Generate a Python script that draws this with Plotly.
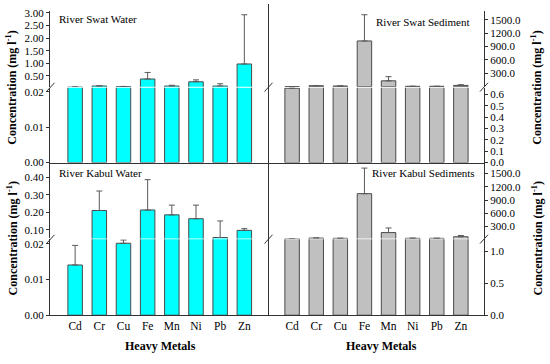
import plotly.graph_objects as go

metals = ["Cd", "Cr", "Cu", "Fe", "Mn", "Ni", "Pb", "Zn"]

swat_water = [0.06, 0.102, 0.08, 0.38, 0.10, 0.27, 0.10, 0.975]
swat_water_err = [0.01, 0.005, 0.005, 0.26, 0.03, 0.075, 0.09, 1.955]

swat_sed = [0.655, 22, 15, 1024, 131, 8, 8, 28]
swat_sed_err = [0.005, 2, 2, 588, 93, 0, 0, 16]

kabul_water = [0.0141, 0.21, 0.0202, 0.213, 0.185, 0.163, 0.055, 0.096]
kabul_water_err = [0.0055, 0.112, 0.0009, 0.174, 0.056, 0.078, 0.095, 0.01]

kabul_sed = [20, 37, 32, 1044, 162, 32, 32, 67]
kabul_sed_err = [2, 3, 0, 580, 104, 3, 0, 29]

W, H = 550, 364
FONT = "Liberation Serif"
LINE = "#333333"
CYAN = "#00FFFF"
GRAY = "#C0C0C0"


def px(x):
    return x / W


def py(y):
    return 1 - y / H


fig = go.Figure()


def add_pair(vals, errs, color, xa, ylow, yhigh):
    for ya in (ylow, yhigh):
        fig.add_trace(go.Bar(
            x=metals, y=vals, xaxis=xa, yaxis=ya, width=0.6,
            marker=dict(color=color, line=dict(color="#4a4a4a", width=1)),
            error_y=dict(type="data", symmetric=False, array=errs,
                         arrayminus=[0] * len(errs), color="#5a5a5a",
                         thickness=1, width=3),
            showlegend=False, hoverinfo="skip",
        ))


add_pair(kabul_water, kabul_water_err, CYAN, "x", "y", "y2")
add_pair(swat_water, swat_water_err, CYAN, "x3", "y3", "y4")
add_pair(kabul_sed, kabul_sed_err, GRAY, "x2", "y5", "y6")
add_pair(swat_sed, swat_sed_err, GRAY, "x4", "y7", "y8")

tickfont = dict(family=FONT, size=11, color="black")

yax_common = dict(showline=True, linecolor=LINE, linewidth=1, ticks="outside",
                  ticklen=3, tickcolor=LINE, showgrid=False, zeroline=False,
                  tickfont=tickfont, fixedrange=True)
xax_common = dict(showline=True, linecolor=LINE, linewidth=1, showgrid=False,
                  zeroline=False, ticks="", tickfont=dict(family=FONT, size=11.5, color="black"),
                  fixedrange=True, type="category")

xl = [px(50), px(268.5)]
xr = [px(268.5), px(484)]
# vertical pixel domains
tu = [py(85), py(7)]
tl = [py(163), py(86)]
bu = [py(241), py(163)]
bl = [py(320), py(242)]

fig.update_layout(
    width=W, height=H, margin=dict(l=0, r=0, t=0, b=0), autosize=False,
    plot_bgcolor="white", paper_bgcolor="white", bargap=0,
    showlegend=False,
    xaxis=dict(xax_common, domain=xl, anchor="y", range=[-1.04, 8.0], showticklabels=True),
    xaxis2=dict(xax_common, domain=xr, anchor="y5", range=[-0.98, 7.96], showticklabels=True),
    xaxis3=dict(xax_common, domain=xl, anchor="y3", range=[-1.04, 8.0], showticklabels=False),
    xaxis4=dict(xax_common, domain=xr, anchor="y7", range=[-0.98, 7.96], showticklabels=False),
    # bottom left (Kabul water)
    yaxis=dict(yax_common, domain=bl, anchor="x", range=[0, 0.0213],
               tickvals=[0, 0.01, 0.02], tickformat=".2f"),
    yaxis2=dict(yax_common, domain=bu, anchor="x", range=[0.05, 0.4855],
                tickvals=[0.1, 0.2, 0.3, 0.4], tickformat=".2f"),
    # top left (Swat water)
    yaxis3=dict(yax_common, domain=tl, anchor="x3", range=[0, 0.0212],
                tickvals=[0, 0.01, 0.02], tickformat=".2f"),
    yaxis4=dict(yax_common, domain=tu, anchor="x3", range=[0.075, 3.087],
                tickvals=[0.5, 1.0, 1.5, 2.0, 2.5, 3.0], tickformat=".2f"),
    # bottom right (Kabul sediment)
    yaxis5=dict(yax_common, domain=bl, anchor="x2", side="right", range=[0, 1.187],
                tickvals=[0, 0.5, 1.0], tickformat=".1f"),
    yaxis6=dict(yax_common, domain=bu, anchor="x2", side="right", range=[30, 1750],
                tickvals=[300, 600, 900, 1200, 1500], tickformat=".1f"),
    # top right (Swat sediment)
    yaxis7=dict(yax_common, domain=tl, anchor="x4", side="right", range=[0, 0.66],
                tickvals=[0, 0.1, 0.2, 0.3, 0.4, 0.5, 0.6], tickformat=".1f"),
    yaxis8=dict(yax_common, domain=tu, anchor="x4", side="right", range=[0, 1700],
                tickvals=[300, 600, 900, 1200, 1500], tickformat=".1f"),
)

shapes = []
# central divider
shapes.append(dict(type="line", xref="paper", yref="paper", x0=px(268.5), x1=px(268.5),
                   y0=py(0), y1=py(320), line=dict(color=LINE, width=1)))
# break marks
for yb in (85.5, 241.8):
    for xb in (50.5, 268.5, 484):
        shapes.append(dict(type="line", xref="paper", yref="paper",
                           x0=px(xb - 4), y0=py(yb + 4.5), x1=px(xb + 4), y1=py(yb - 4.5),
                           line=dict(color=LINE, width=1)))
fig.update_layout(shapes=shapes)

ann = []
lab_font = dict(family=FONT, size=11, color="black")
ann.append(dict(text="River Swat Water", x=px(57), y=py(15.5), xanchor="left", yanchor="middle"))
ann.append(dict(text="River Swat Sediment", x=px(472), y=py(19), xanchor="right", yanchor="middle"))
ann.append(dict(text="River Kabul Water", x=px(57), y=py(173.5), xanchor="left", yanchor="middle"))
ann.append(dict(text="River Kabul Sediments", x=px(477), y=py(173.5), xanchor="right", yanchor="middle"))
for a in ann:
    a.update(xref="paper", yref="paper", showarrow=False, font=lab_font)

title_font = dict(family=FONT, size=12, color="black")
ytitle = "<b>Concentration (mg l<sup>-1</sup>)</b>"
for (xt, yt) in ((12, 86), (12, 241), (537, 86), (537, 241)):
    ann.append(dict(text=ytitle, x=px(xt), y=py(yt), xref="paper", yref="paper",
                    showarrow=False, textangle=-90, font=title_font,
                    xanchor="center", yanchor="middle"))
for xt in (160, 381):
    ann.append(dict(text="<b>Heavy Metals</b>", x=px(xt), y=py(352), xref="paper", yref="paper",
                    showarrow=False, font=title_font, xanchor="center", yanchor="middle"))
fig.update_layout(annotations=ann)

fig.write_html("out.html",
               config={"displayModeBar": False, "staticPlot": True},
               post_script="document.body.style.margin='0px';document.body.style.overflow='hidden';")
